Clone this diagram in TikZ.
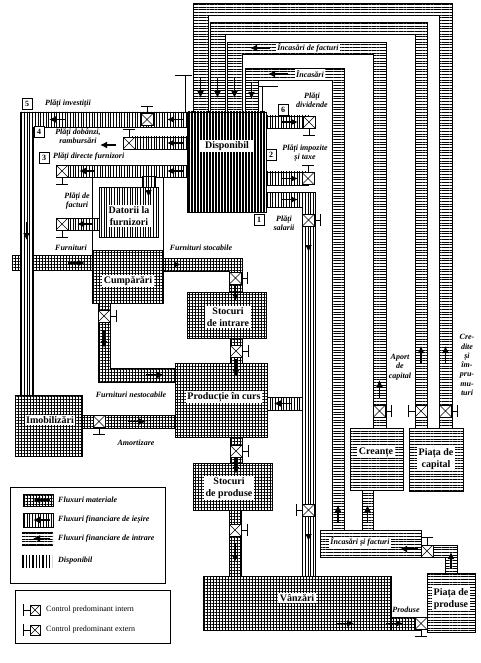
\documentclass[tikz,border=0pt]{standalone}
\usepackage{fontspec}
\setmainfont{Liberation Serif}
\usetikzlibrary{patterns.meta,arrows.meta}
\tikzset{
 inpat/.style={pattern={Lines[angle=0,distance=2.7pt,line width=0.45pt]}},
 outpat/.style={pattern={Lines[angle=90,distance=2.7pt,line width=0.45pt]}},
 matpat/.style={pattern={Hatch[angle=0,distance=3pt,line width=0.45pt]}},
 inband/.style={draw,line width=0.5pt,preaction={fill=white},inpat},
 outband/.style={draw,line width=0.5pt,preaction={fill=white},outpat},
 matband/.style={draw,line width=0.5pt,preaction={fill=white},matpat},
 boxbase/.style={rectangle,draw,line width=0.8pt,inner sep=0pt,preaction={fill=white}},
 matbox/.style={boxbase,matpat},
 inbox/.style={boxbase,inpat},
 outbox/.style={boxbase,pattern={Lines[angle=90,distance=2.6pt,line width=0.7pt]}},
 dispbox/.style={boxbase,pattern={Lines[angle=90,distance=3pt,line width=1.3pt]}},
 ctrl/.style={draw,fill=white,minimum size=12pt,inner sep=0pt,line width=0.5pt,
   path picture={\draw[line width=0.5pt] (path picture bounding box.south west) -- (path picture bounding box.north east) (path picture bounding box.north west) -- (path picture bounding box.south east);}},
 tbar/.style={line width=0.7pt},
 flow/.style={line width=1.4pt,-{Latex[length=7pt,width=7pt]}},
 lab/.style={font=\fontsize{8}{9.3}\selectfont\bfseries\itshape,inner sep=1pt,align=center},
 blab/.style={font=\fontsize{10}{12}\selectfont\bfseries,fill=white,inner sep=1.5pt,align=center},
 numbox/.style={draw,fill=white,font=\fontsize{8}{9}\selectfont\bfseries,inner sep=0pt,minimum width=10pt,minimum height=11pt},
 ctext/.style={font=\fontsize{8}{9}\selectfont,inner sep=1pt}
}
\newcommand\ctlTR[1]{\draw[tbar] (#1.east) -- ++(6,0) ++(0,-6) -- ++(0,12);}
\newcommand\ctlTL[1]{\draw[tbar] (#1.west) -- ++(-6,0) ++(0,-6) -- ++(0,12);}
\newcommand\ctlTU[1]{\draw[tbar] (#1.north) -- ++(0,-7) ++(-6,0) -- ++(12,0);}
\newcommand\ctlTD[1]{\draw[tbar] (#1.south) -- ++(0,7) ++(-6,0) -- ++(12,0);}
\begin{document}
\begin{tikzpicture}[x=1pt,y=-1pt]
\useasboundingbox (0,0) rectangle (480,663);
% ---- inflow bands (top rings)
\path[inband] (193,112) -- (193,3) -- (452,3) -- (452,429) -- (439,429) -- (439,15) -- (208,15) -- (208,112) -- cycle;
\path[inband] (210,112) -- (210,22) -- (427,22) -- (427,429) -- (415,429) -- (415,34) -- (225,34) -- (225,112) -- cycle;
\path[inband] (227,112) -- (227,42) -- (386,42) -- (386,429) -- (373,429) -- (373,54) -- (242,54) -- (242,112) -- cycle;
\path[inband] (245,112) -- (245,68) -- (344,68) -- (344,531) -- (332,531) -- (332,80) -- (258,80) -- (258,112) -- cycle;
\path[inband] (362,489) rectangle (373,531);
\path[inband] (420,545) -- (457,545) -- (457,574) -- (445,574) -- (445,557) -- (420,557) -- cycle;
% ---- material bands
\path[matband] (12,255) rectangle (93,270);
\path[matband] (162,258) -- (242,258) -- (242,293) -- (229,293) -- (229,271) -- (162,271) -- cycle;
\path[matband] (98,302) -- (110,302) -- (110,368) -- (176,368) -- (176,382) -- (98,382) -- cycle;
\path[matband] (230,337) rectangle (242,364);
\path[matband] (81,415) rectangle (176,428);
\path[matband] (230,436) rectangle (242,464);
\path[matband] (229,509) rectangle (241,577);
\path[matband] (390,617) rectangle (421,630);
% ---- outflow bands
\path[outband] (188,112) -- (20,112) -- (20,396) -- (33,396) -- (33,127) -- (188,127) -- cycle;
\path[outband] (129,137) rectangle (188,149);
\path[outband] (62,165) rectangle (188,177);
\path[outband] (142,176) rectangle (155,188);
\path[outband] (62,218) rectangle (100,230);
\path[outband] (266,116) rectangle (309,128);
\path[outband] (266,172) rectangle (308,185);
\path[outband] (266,192) -- (315,192) -- (315,577) -- (302,577) -- (302,207) -- (266,207) -- cycle;
\path[outband] (266,397) rectangle (302,410);
% ---- frame lines and marks
\draw[line width=0.5pt] (92,177) -- (92,250) (163,177) -- (163,250);
\draw[tbar] (175,75) -- (192,75) (185,75) -- (185,112);
\draw[tbar] (259,86) -- (278,86) (262,86) -- (262,112);
% ---- boxes
\node[dispbox,minimum width=79pt,minimum height=100pt] (disp) at (226.5,162) {};
\node[outbox,minimum width=59pt,minimum height=50pt] (dat) at (128.5,212) {};
\node[matbox,minimum width=71pt,minimum height=53pt] (cump) at (127.5,276.5) {};
\node[matbox,minimum width=79pt,minimum height=46pt] (stin) at (226.5,315) {};
\node[matbox,minimum width=92pt,minimum height=74pt] (prod) at (221,400) {};
\node[matbox,minimum width=67pt,minimum height=61pt] (imob) at (48.5,425.5) {};
\node[matbox,minimum width=79pt,minimum height=47pt] (stpr) at (232.5,486.5) {};
\node[matbox,minimum width=188pt,minimum height=54pt] (vanz) at (297,603) {};
\node[inbox,minimum width=53pt,minimum height=62pt] (crea) at (376.5,459) {};
\node[inbox,minimum width=54pt,minimum height=63pt] (pcap) at (436,459.5) {};
\node[inbox,minimum width=101pt,minimum height=27pt] (incf) at (370.5,543.5) {};
\node[inbox,minimum width=48pt,minimum height=59pt] (ppro) at (451,602.5) {};
% ---- controls
\node[ctrl] (k5) at (147,119.5) {}; \ctlTU{k5}
\node[ctrl] (k4) at (129,143) {}; \ctlTU{k4}
\node[ctrl] (k3) at (62,171) {}; \ctlTD{k3}
\node[ctrl] (kpf) at (62,224) {}; \ctlTD{kpf}
\node[ctrl] (kfs) at (235.5,278) {}; \ctlTR{kfs}
\node[ctrl] (kfn) at (104,316) {}; \ctlTR{kfn}
\node[ctrl] (ksi) at (236,351) {}; \ctlTR{ksi}
\node[ctrl] (kpr) at (236,451) {}; \ctlTR{kpr}
\node[ctrl] (ksp) at (235,530) {}; \ctlTR{ksp}
\node[ctrl] (kam) at (99,421.5) {}; \ctlTD{kam}
\node[ctrl] (k6) at (309,122) {}; \ctlTD{k6}
\node[ctrl] (k2) at (308,178.5) {}; \ctlTU{k2}
\node[ctrl] (k1) at (308.5,220) {}; \ctlTR{k1}
\node[ctrl] (ksal) at (308.5,510) {}; \ctlTL{ksal}
\node[ctrl] (kpd) at (421,623.5) {}; \ctlTD{kpd}
\node[ctrl] (kif) at (427,551) {}; \ctlTU{kif}
\node[ctrl] (kcr) at (379.5,411) {}; \ctlTR{kcr}
\node[ctrl] (kap) at (421,411) {}; \ctlTL{kap}
\node[ctrl] (kcd) at (445.5,411) {}; \ctlTR{kcd}
% ---- arrows
\draw[flow] (65,119.5) -- (49,119.5);
\draw[flow] (183,119.5) -- (167,119.5);
\draw[flow] (26.5,222) -- (26.5,240);
\draw[flow] (183,143) -- (167,143);
\draw[flow] (116,145) -- (100,145);
\draw[flow] (94,171) -- (79,171);
\draw[flow] (183,171) -- (167,171);
\draw[flow] (148.5,178) -- (148.5,197);
\draw[flow] (93,224) -- (77,224);
\draw[flow] (68,263) -- (85,263);
\draw[flow] (164,264.5) -- (181,264.5);
\draw[flow] (235.5,285) -- (235.5,301);
\draw[flow] (104,330) -- (104,348);
\draw[flow] (146,375) -- (164,375);
\draw[flow] (236,359) -- (236,377);
\draw[flow] (128,421.5) -- (146,421.5);
\draw[flow] (292,403.5) -- (274,403.5);
\draw[flow] (236,458) -- (236,474);
\draw[flow] (235,543) -- (235,562);
\draw[flow] (308.5,232) -- (308.5,252);
\draw[flow] (308.5,524) -- (308.5,541);
\draw[flow] (337,623.5) -- (354,623.5);
\draw[flow] (386,623.5) -- (403,623.5);
\draw[flow] (418,549) -- (400,549);
\draw[flow] (451,568) -- (451,552);
\draw[flow] (338,523) -- (338,505);
\draw[flow] (367.5,523) -- (367.5,505);
\draw[flow] (379.5,398) -- (379.5,380);
\draw[flow] (421,364) -- (421,346);
\draw[flow] (445.5,364) -- (445.5,346);
\draw[flow] (200.5,78) -- (200.5,98);
\draw[flow] (217.5,78) -- (217.5,98);
\draw[flow] (234.5,78) -- (234.5,98);
\draw[flow] (251.5,82) -- (251.5,99);
\draw[flow] (288,74) -- (268,74);
\draw[flow] (270,48) -- (250,48);
\draw[flow] (281,122) -- (298,122);
\draw[flow] (281,178.5) -- (298,178.5);
\draw[flow] (281,199.5) -- (298,199.5);
% ---- box labels
\node[blab,inner xsep=5pt] (tdisp) at (227,146) {Disponibil};
\node[blab] (tdat) at (129,216) {Datorii la\\furnizori};
\node[blab] (tcump) at (128,281) {Cumpărări};
\node[blab] (tstin) at (228,317) {Stocuri\\de intrare};
\node[blab] (tprod) at (224,397) {Producție în curs};
\node[blab] (timob) at (50,420) {Imobilizări};
\node[blab] (tstpr) at (229,488) {Stocuri\\de produse};
\node[blab] (tvanz) at (297,598) {Vânzări};
\node[blab] (tcrea) at (376,452) {Creanțe};
\node[blab] (tpcap) at (436,459) {Piața de\\capital};
\node[blab] (tppro) at (451,599) {Piața de\\produse};
\node[lab,fill=white] (tincf) at (360,542) {Încasări și facturi};
% ---- flow labels
\node[lab] (l5) at (68,104) {Plăți investiții};
\node[lab] (l4) at (78,136) {Plăți dobânzi,\\rambursări};
\node[lab,anchor=west] (l3) at (52,157) {Plăți directe furnizori};
\node[lab] (lpf) at (77,201) {Plăți de\\facturi};
\node[lab] (lfur) at (71,248) {Furnituri};
\node[lab] (lfst) at (201,248) {Furnituri stocabile};
\node[lab] (lfns) at (131,395) {Furnituri nestocabile};
\node[lab] (lam) at (136,443) {Amortizare};
\node[lab] (l6) at (312,100) {Plăți\\dividende};
\node[lab] (l2) at (305,153) {Plăți impozite\\și taxe};
\node[lab] (l1) at (284,223) {Plăți\\salarii};
\node[lab,fill=white] (linc) at (310,74) {Încasări};
\node[lab,fill=white] (lincf) at (308,48) {Încasări de facturi};
\node[lab] (lap) at (400,367) {Aport\\de\\capital};
\node[lab] (lcr) at (467,365) {Cre-\\dite\\și\\îm-\\pru-\\mu-\\turi};
\node[lab] (lprod) at (406,610) {Produse};
% ---- number boxes
\node[numbox] (n5) at (27,104) {5};
\node[numbox] (n4) at (39,132) {4};
\node[numbox] (n3) at (44,158) {3};
\node[numbox] (n6) at (283,110) {6};
\node[numbox] (n2) at (271,155) {2};
\node[numbox] (n1) at (259,220) {1};
% ---- legend
\node[draw,line width=0.6pt,minimum width=155pt,minimum height=96pt] (leg1) at (87.5,535) {};
\node[draw,line width=0.6pt,minimum width=155pt,minimum height=53pt] (leg2) at (92.5,616.5) {};
\path[matband] (23,494) rectangle (53,506);
\draw[flow] (50,500) -- (33,500);
\path[outband] (23,513) rectangle (53,527);
\draw[flow] (50,520) -- (33,520);
\path[preaction={fill=white},inpat] (22,532) rectangle (53,545);
\draw[line width=0.5pt] (22,532) -- (53,532) (22,545) -- (53,545);
\draw[flow] (50,538.5) -- (33,538.5);
\path[pattern={Lines[angle=90,distance=3.3pt,line width=1.3pt]}] (22,555) rectangle (52,567);
\node[lab,anchor=west] (lg1) at (57,500) {Fluxuri materiale};
\node[lab,anchor=west] (lg2) at (57,520) {Fluxuri financiare de ieșire};
\node[lab,anchor=west] (lg3) at (57,539) {Fluxuri financiare de intrare};
\node[lab,anchor=west] (lg4) at (57,561) {Disponibil};
\node[ctrl,minimum size=10pt] (kl1) at (35,610) {}; \ctlTL{kl1}
\node[ctrl,minimum size=10pt] (kl2) at (35,630) {}; \ctlTL{kl2}
\node[ctext,anchor=west] (lc1) at (45,610) {Control predominant intern};
\node[ctext,anchor=west] (lc2) at (45,630) {Control predominant extern};
\end{tikzpicture}
\end{document}
